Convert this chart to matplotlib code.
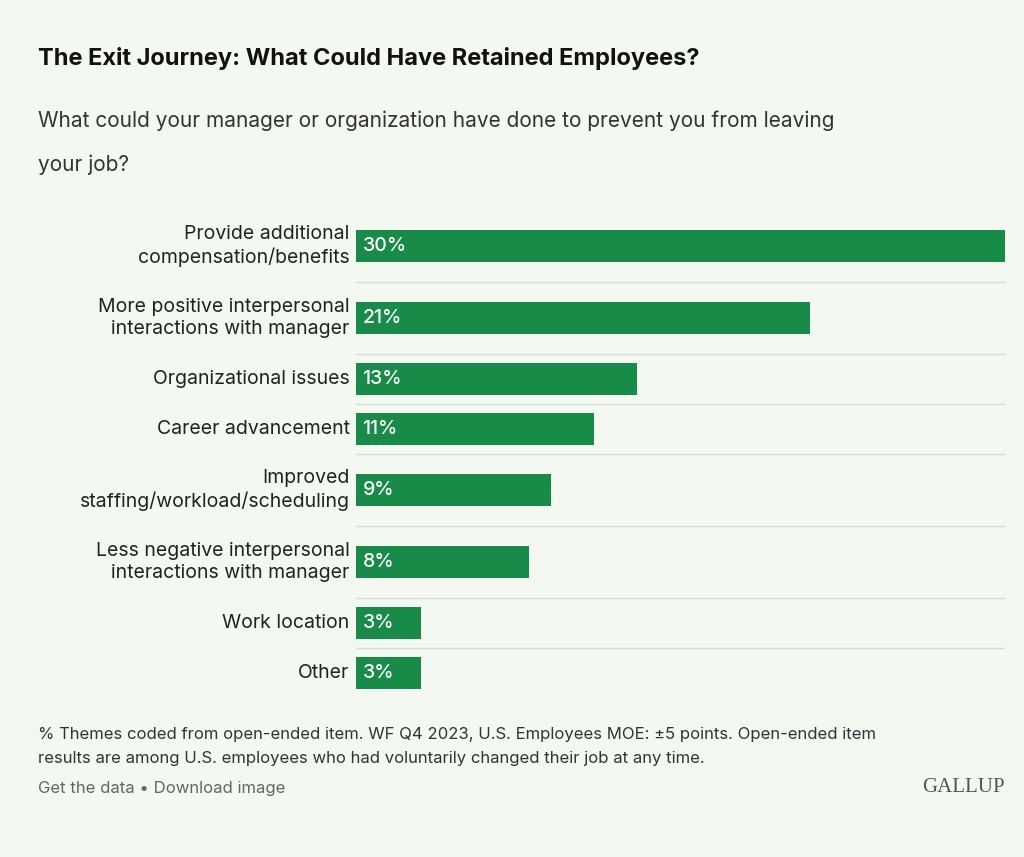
import matplotlib
matplotlib.use("Agg")
import matplotlib.pyplot as plt

categories = ["Provide additional\ncompensation/benefits",
              "More positive interpersonal\ninteractions with manager",
              "Organizational issues",
              "Career advancement",
              "Improved\nstaffing/workload/scheduling",
              "Less negative interpersonal\ninteractions with manager",
              "Work location",
              "Other"]
values = [30, 21, 13, 11, 9, 8, 3, 3]
value_labels = ["30%", "21%", "13%", "11%", "9%", "8%", "3%", "3%"]

plt.rcParams['font.family'] = ['Inter', 'DejaVu Sans']
bg = "#f3f8f1"
green = "#188b48"
fig = plt.figure(figsize=(10.24, 8.57), dpi=100, facecolor=bg)
ax = fig.add_axes([356/1024, 1-698/857, 649/1024, 488/857])
ax.set_facecolor(bg)

heights = [72 if "\n" in c else 50 for c in categories]
centers = []
edges = [0]
acc = 0
for h in heights:
    centers.append(acc + h/2)
    acc += h
    edges.append(acc)
ax.barh(centers, values, height=32, color=green)
for e in edges[1:-1]:
    ax.axhline(e, color="#d9ddd8", lw=1, xmin=0, xmax=1)
for c, v, l, cat in zip(centers, values, value_labels, categories):
    ax.text(0.3, c, l, color="white", fontsize=14, va="center", ha="left", fontweight="medium")
    ax.text(-0.3, c, cat, color="#222222", fontsize=14, va="center", ha="right", linespacing=1.35)
ax.set_xlim(0, 30)
ax.set_ylim(acc, 0)
ax.axis("off")

fig.text(38/1024, 1-58/857, "The Exit Journey: What Could Have Retained Employees?",
         fontsize=17, fontweight="bold", va="center", color="#111111")
fig.text(38/1024, 1-121/857, "What could your manager or organization have done to prevent you from leaving",
         fontsize=15, va="center", color="#333333")
fig.text(38/1024, 1-165/857, "your job?", fontsize=15, va="center", color="#333333")
fig.text(38/1024, 1-735/857, "% Themes coded from open-ended item. WF Q4 2023, U.S. Employees MOE: ±5 points. Open-ended item",
         fontsize=12, va="center", color="#333333")
fig.text(38/1024, 1-759/857, "results are among U.S. employees who had voluntarily changed their job at any time.",
         fontsize=12, va="center", color="#333333")
fig.text(38/1024, 1-789/857, "Get the data • Download image", fontsize=12, va="center", color="#666666")
fig.text(1005/1024, 1-787/857, "GALLUP", fontsize=15, va="center", ha="right",
         color="#555555", family="Liberation Serif")
fig.savefig("out.png", dpi=100, facecolor=bg)
